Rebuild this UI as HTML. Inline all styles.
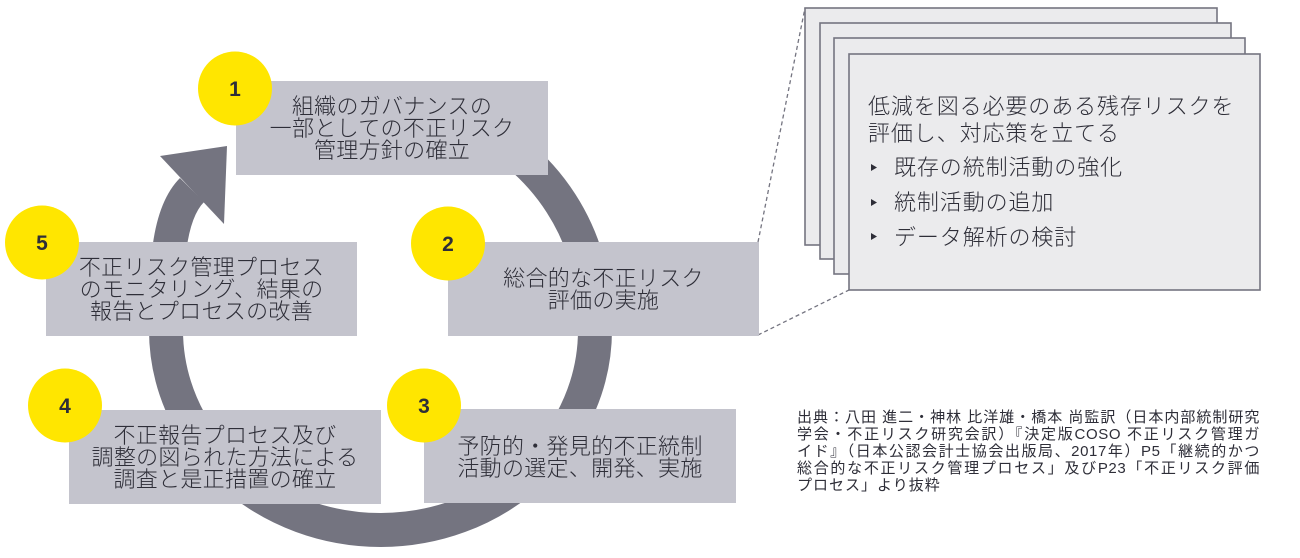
<!DOCTYPE html>
<html><head><meta charset="utf-8">
<style>
html,body{margin:0;padding:0;background:#fff;}
#c{position:relative;width:1300px;height:558px;overflow:hidden;background:#fff;color:#2e2e38;font-family:"Liberation Sans","Noto Sans CJK JP",sans-serif;}
svg{position:absolute;left:0;top:0;}
.bx{position:absolute;display:flex;align-items:center;justify-content:center;text-align:center;font-family:"Noto Sans CJK JP",sans-serif;font-weight:300;font-size:22px;line-height:22px;letter-spacing:0.3px;color:#2e2e38;white-space:nowrap;}
.ln{position:absolute;font-family:"Noto Sans CJK JP",sans-serif;font-weight:300;font-size:22px;line-height:26px;height:26px;letter-spacing:0.9px;color:#2e2e38;white-space:nowrap;}
.ct{position:absolute;left:797px;width:463px;font-family:"Liberation Sans","Noto Sans CJK JP",sans-serif;font-size:15px;line-height:17px;height:17px;letter-spacing:0.6px;color:#2e2e38;white-space:nowrap;text-align:justify;text-align-last:justify;}
</style></head><body>
<div id="c">
<svg width="1300" height="558" viewBox="0 0 1300 558" xmlns="http://www.w3.org/2000/svg">
  <path d="M192,190 C167,215 166,270 166,330 A214.5 200 0 0 0 595,330 A215 215 0 0 0 460,120" fill="none" stroke="#747480" stroke-width="34"/>
  <polygon points="160,156 227,146 224,224" fill="#747480"/>
  <line x1="758" y1="242" x2="805" y2="8" stroke="#747480" stroke-width="1.3" stroke-dasharray="4 3"/>
  <line x1="758" y1="335" x2="849" y2="290" stroke="#747480" stroke-width="1.3" stroke-dasharray="4 3"/>
  <rect x="805" y="8" width="412" height="237" fill="#ebebed" stroke="#747480" stroke-width="1.6"/>
  <rect x="820" y="23" width="411" height="236" fill="#ebebed" stroke="#747480" stroke-width="1.6"/>
  <rect x="834" y="38" width="411" height="236" fill="#ebebed" stroke="#747480" stroke-width="1.6"/>
  <rect x="849" y="54" width="411" height="236" fill="#ebebed" stroke="#747480" stroke-width="1.6"/>
  <polygon points="871,164 877,167.5 871,171" fill="#2e2e38"/>
  <polygon points="871,199 877,202.5 871,206" fill="#2e2e38"/>
  <polygon points="871,233 877,236.5 871,240" fill="#2e2e38"/>
  <rect x="236" y="81" width="312" height="94" fill="#c4c4cd"/>
  <rect x="448" y="242" width="311" height="94" fill="#c4c4cd"/>
  <rect x="424" y="409" width="312" height="94" fill="#c4c4cd"/>
  <rect x="69" y="410" width="312" height="94" fill="#c4c4cd"/>
  <rect x="46" y="242" width="311" height="94" fill="#c4c4cd"/>
  <circle cx="235" cy="88.5" r="37" fill="#ffe600"/>
  <circle cx="448" cy="243.5" r="37" fill="#ffe600"/>
  <circle cx="424" cy="405.5" r="37" fill="#ffe600"/>
  <circle cx="65" cy="405.5" r="37" fill="#ffe600"/>
  <circle cx="42" cy="242.5" r="37" fill="#ffe600"/>
  <g font-family="Liberation Sans, sans-serif" font-weight="bold" font-size="21" fill="#2e2e38" text-anchor="middle">
    <text x="235" y="96">1</text>
    <text x="448" y="251">2</text>
    <text x="424" y="413">3</text>
    <text x="65" y="413">4</text>
    <text x="42" y="250">5</text>
  </g>
</svg>

<div class="bx" style="left:236px;top:80px;width:312px;height:94px;">組織のガバナンスの<br>一部としての不正リスク<br>管理方針の確立</div>
<div class="bx" style="left:448px;top:241px;width:311px;height:94px;">総合的な不正リスク<br>評価の実施</div>
<div class="bx" style="left:424px;top:409px;width:312px;height:94px;">予防的・発見的不正統制<br>活動の選定、開発、実施</div>
<div class="bx" style="left:69px;top:409px;width:312px;height:94px;">不正報告プロセス及び<br>調整の図られた方法による<br>調査と是正措置の確立</div>
<div class="bx" style="left:46px;top:241px;width:311px;height:94px;">不正リスク管理プロセス<br>のモニタリング、結果の<br>報告とプロセスの改善</div>

<div class="ln" style="left:868px;top:92px;">低減を図る必要のある残存リスクを</div>
<div class="ln" style="left:868px;top:119px;">評価し、対応策を立てる</div>
<div class="ln" style="left:894px;top:153px;">既存の統制活動の強化</div>
<div class="ln" style="left:894px;top:188px;">統制活動の追加</div>
<div class="ln" style="left:894px;top:223px;">データ解析の検討</div>

<div class="ct" style="top:409px;">出典：八田 進二・神林 比洋雄・橋本 尚監訳（日本内部統制研究</div>
<div class="ct" style="top:426px;">学会・不正リスク研究会訳）『決定版COSO 不正リスク管理ガ</div>
<div class="ct" style="top:443px;">イド』（日本公認会計士協会出版局、2017年）P5「継続的かつ</div>
<div class="ct" style="top:460px;">総合的な不正リスク管理プロセス」及びP23「不正リスク評価</div>
<div class="ct" style="top:477px;text-align:left;text-align-last:left;letter-spacing:1px;">プロセス」より抜粋</div>
</div>
</body></html>
